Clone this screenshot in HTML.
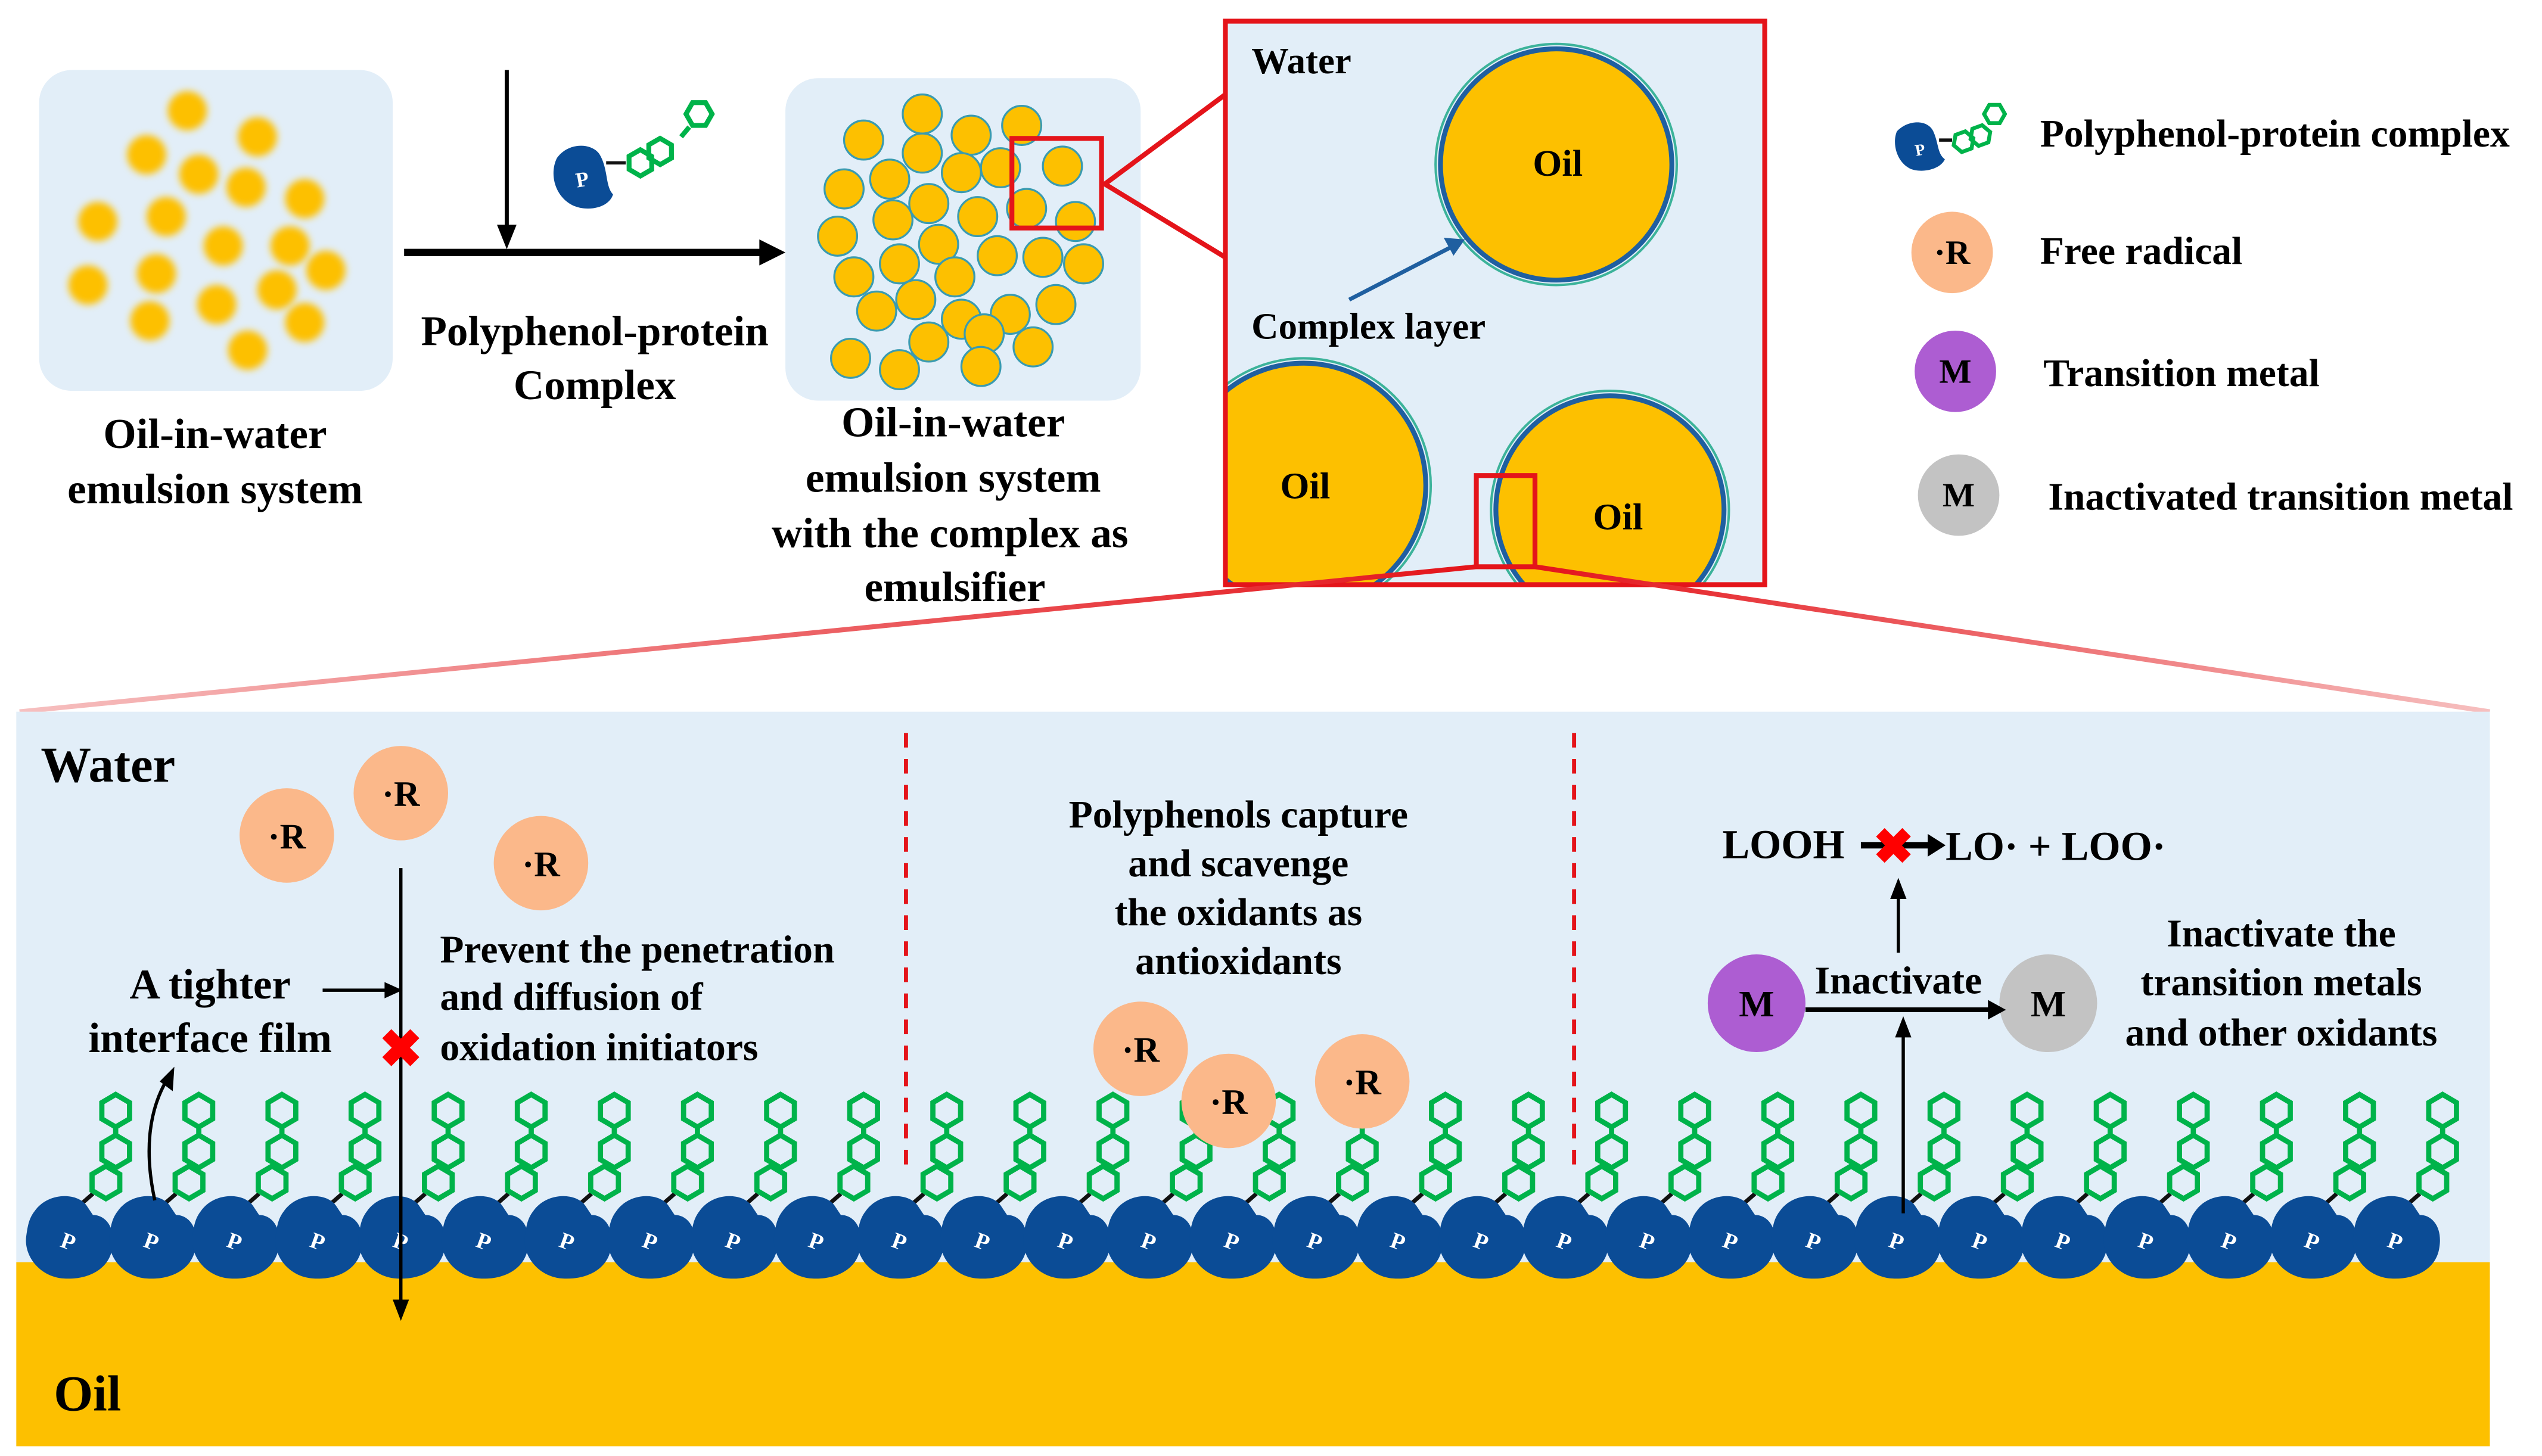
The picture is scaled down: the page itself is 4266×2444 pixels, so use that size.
<!DOCTYPE html>
<html><head><meta charset="utf-8"><style>
html,body{margin:0;padding:0;background:#fff}
svg{display:block}
text{font-family:"Liberation Serif",serif;font-weight:bold;fill:#000}
</style></head><body>
<svg width="4266" height="2444" viewBox="0 0 1560 894" preserveAspectRatio="none" xmlns="http://www.w3.org/2000/svg">
<defs>
<filter id="bl" x="-50%" y="-50%" width="200%" height="200%"><feGaussianBlur stdDeviation="2.2"/></filter>
<linearGradient id="lgL" x1="0" y1="0" x2="1" y2="0"><stop offset="0" stop-color="#f6c0c0"/><stop offset="1" stop-color="#e4141a"/></linearGradient>
<linearGradient id="lgR" x1="0" y1="0" x2="1" y2="0"><stop offset="0" stop-color="#e4141a"/><stop offset="1" stop-color="#f6c0c0"/></linearGradient>
<path id="hx" d="M0,-10 L8.5,-5 L8.5,5 L0,10 L-8.5,5 L-8.5,-5Z" fill="none" stroke="#00b34a" stroke-width="3.2"/>
<path id="hxs" d="M0,-8 L7,-4 L7,4 L0,8 L-7,4 L-7,-4Z" fill="none" stroke="#00b34a" stroke-width="3"/>
<g id="unit">
  <line x1="6" y1="-20" x2="14" y2="-27" stroke="#111" stroke-width="2.5"/>
  <use href="#hx" x="22" y="-34"/>
  <use href="#hx" x="28" y="-53"/>
  <line x1="28" y1="-63" x2="28" y2="-68" stroke="#00b34a" stroke-width="3.2"/>
  <use href="#hx" x="28" y="-78"/>
  <path d="M-22,-16 C-14,-28 4,-28 10,-20 L14,-14 C22,-14 28,-6 26,6 C24,20 10,26 -4,25 C-18,24 -28,12 -27,0 C-26,-8 -25,-12 -22,-16Z" fill="#0b4c96"/>
</g>
<g id="drop"><circle r="12" fill="#fdc000" stroke="#3a9bb0" stroke-width="1.2"/></g>
<g id="bdrop"><circle r="12" fill="#fdc000" filter="url(#bl)"/></g>
<g id="rad"><circle r="29" fill="#fbb88a"/></g>
</defs>

<!-- top left box -->
<rect x="24" y="43" width="217" height="197" rx="20" fill="#e2eef8"/>
<g>
<use href="#bdrop" x="115" y="68"/><use href="#bdrop" x="158" y="84"/><use href="#bdrop" x="90" y="95"/><use href="#bdrop" x="122" y="107"/><use href="#bdrop" x="151" y="115"/><use href="#bdrop" x="187" y="122"/><use href="#bdrop" x="60" y="136"/><use href="#bdrop" x="102" y="133"/><use href="#bdrop" x="137" y="151"/><use href="#bdrop" x="178" y="151"/><use href="#bdrop" x="200" y="166"/><use href="#bdrop" x="96" y="168"/><use href="#bdrop" x="54" y="175"/><use href="#bdrop" x="170" y="178"/><use href="#bdrop" x="133" y="187"/><use href="#bdrop" x="92" y="197"/><use href="#bdrop" x="187" y="198"/><use href="#bdrop" x="152" y="215"/>
</g>
<text x="132" y="275" font-size="26" text-anchor="middle">Oil-in-water</text>
<text x="132" y="309" font-size="26" text-anchor="middle">emulsion  system</text>

<!-- arrows -->
<line x1="311" y1="43" x2="311" y2="142" stroke="#000" stroke-width="2.5"/>
<path d="M305,138 L317,138 L311,153Z"/>
<line x1="248" y1="155" x2="468" y2="155" stroke="#000" stroke-width="4.5"/>
<path d="M466,147 L482,155 L466,163Z"/>
<g transform="translate(360,108) rotate(-10)">
  <path d="M-16,-14 C-8,-22 6,-20 10,-12 C14,-2 10,8 14,14 C10,22 -4,22 -12,16 C-22,8 -22,-6 -16,-14Z" fill="#0b4c96"/>
  <text x="-3" y="6" font-size="13" style="fill:#fff" text-anchor="middle">P</text>
</g>
<line x1="372" y1="100" x2="384" y2="100" stroke="#111" stroke-width="2"/>
<g transform="translate(393,100) rotate(-30)">
<use href="#hxs" transform="rotate(90)"/><use href="#hxs" transform="translate(14,0) rotate(90)"/>
</g>
<line x1="418" y1="84" x2="423" y2="78" stroke="#00b34a" stroke-width="3"/>
<use href="#hxs" transform="translate(429,70) rotate(90)"/>
<text x="365" y="212" font-size="26" text-anchor="middle">Polyphenol-protein</text>
<text x="365" y="245" font-size="26" text-anchor="middle">Complex</text>

<!-- second box -->
<rect x="482" y="48" width="218" height="198" rx="20" fill="#e2eef8"/>
<g>
<use href="#drop" x="530" y="86"/><use href="#drop" x="566" y="70"/><use href="#drop" x="596" y="83"/><use href="#drop" x="627" y="77"/><use href="#drop" x="518" y="116"/><use href="#drop" x="546" y="110"/><use href="#drop" x="566" y="94"/><use href="#drop" x="590" y="106"/><use href="#drop" x="614" y="103"/><use href="#drop" x="652" y="102"/><use href="#drop" x="548" y="135"/><use href="#drop" x="570" y="125"/><use href="#drop" x="600" y="133"/><use href="#drop" x="630" y="128"/><use href="#drop" x="660" y="136"/><use href="#drop" x="514" y="145"/><use href="#drop" x="576" y="150"/><use href="#drop" x="552" y="162"/><use href="#drop" x="586" y="170"/><use href="#drop" x="612" y="157"/><use href="#drop" x="640" y="158"/><use href="#drop" x="665" y="162"/><use href="#drop" x="524" y="170"/><use href="#drop" x="538" y="191"/><use href="#drop" x="562" y="184"/><use href="#drop" x="590" y="196"/><use href="#drop" x="620" y="193"/><use href="#drop" x="648" y="187"/><use href="#drop" x="570" y="210"/><use href="#drop" x="604" y="205"/><use href="#drop" x="634" y="213"/><use href="#drop" x="522" y="220"/><use href="#drop" x="552" y="227"/><use href="#drop" x="602" y="225"/>
</g>
<rect x="621" y="85" width="55" height="55" fill="none" stroke="#e4141a" stroke-width="3"/>
<polyline points="752,58 678,113 752,158" fill="none" stroke="#e4141a" stroke-width="3"/>
<text x="585" y="268" font-size="26" text-anchor="middle">Oil-in-water</text>
<text x="585" y="302" font-size="26" text-anchor="middle">emulsion  system</text>
<text x="583" y="336" font-size="26" text-anchor="middle">with  the complex  as</text>
<text x="586" y="369" font-size="26" text-anchor="middle">emulsifier</text>

<!-- zoom box -->
<svg x="752" y="13" width="331" height="346" viewBox="752 13 331 346">
<rect x="752" y="13" width="331" height="346" fill="#e2eef8"/>
<circle cx="955" cy="101" r="71" fill="#fdc000" stroke="#1f5fa0" stroke-width="3"/>
<circle cx="955" cy="101" r="74" fill="none" stroke="#3cb39a" stroke-width="1.5"/>
<circle cx="800" cy="298" r="75" fill="#fdc000" stroke="#1f5fa0" stroke-width="3"/>
<circle cx="800" cy="298" r="78" fill="none" stroke="#3cb39a" stroke-width="1.5"/>
<circle cx="988" cy="313" r="70" fill="#fdc000" stroke="#1f5fa0" stroke-width="3"/>
<circle cx="988" cy="313" r="73" fill="none" stroke="#3cb39a" stroke-width="1.5"/>
</svg>
<rect x="752" y="13" width="331" height="346" fill="none" stroke="#e4141a" stroke-width="3"/>
<text x="768" y="45" font-size="23">Water</text>
<text x="956" y="108" font-size="23" text-anchor="middle">Oil</text>
<text x="801" y="306" font-size="23" text-anchor="middle">Oil</text>
<text x="993" y="325" font-size="23" text-anchor="middle">Oil</text>
<text x="768" y="208" font-size="23">Complex layer</text>
<line x1="828" y1="184" x2="890" y2="152" stroke="#1f5fa0" stroke-width="2.5"/>
<path d="M886,146 L899,147 L892,157Z" fill="#1f5fa0"/>
<rect x="906" y="292" width="36" height="56" fill="none" stroke="#e4141a" stroke-width="3"/>
<line x1="906" y1="348" x2="12" y2="437" stroke="url(#lgL)" stroke-width="3"/>
<line x1="942" y1="348" x2="1528" y2="437" stroke="url(#lgR)" stroke-width="3"/>

<!-- legend -->
<g transform="translate(1180,90) rotate(-10)">
  <path d="M-14,-12 C-6,-18 6,-16 8,-8 C10,0 8,6 12,10 C8,16 -4,16 -10,12 C-18,6 -18,-6 -14,-12Z" fill="#0b4c96"/>
  <text x="-2" y="5" font-size="10" style="fill:#fff" text-anchor="middle">P</text>
</g>
<line x1="1190" y1="86" x2="1198" y2="86" stroke="#111" stroke-width="2"/>
<g transform="translate(1205,87) rotate(-20)"><use href="#hxs" transform="rotate(90) scale(0.8)"/><use href="#hxs" transform="translate(11,0) rotate(90) scale(0.8)"/></g>
<use href="#hxs" transform="translate(1224,70) rotate(90) scale(0.8)"/>
<text x="1252" y="90" font-size="24">Polyphenol-protein complex</text>
<circle cx="1198" cy="155" r="25" fill="#fbb88a"/>
<text x="1198" y="162" font-size="21" text-anchor="middle">·R</text>
<text x="1252" y="162" font-size="24">Free radical</text>
<circle cx="1200" cy="228" r="25" fill="#ad5dd2"/>
<text x="1200" y="235" font-size="21" text-anchor="middle">M</text>
<text x="1254" y="237" font-size="24">Transition metal</text>
<circle cx="1202" cy="304" r="25" fill="#c3c3c3"/>
<text x="1202" y="311" font-size="21" text-anchor="middle">M</text>
<text x="1257" y="313" font-size="24">Inactivated transition metal</text>

<!-- bottom panel -->
<rect x="10" y="437" width="1518" height="451" fill="#e2eef8"/>
<rect x="10" y="775" width="1518" height="113" fill="#fdc000"/>
<text x="25" y="480" font-size="31">Water</text>
<text x="33" y="866" font-size="31">Oil</text>
<line x1="556" y1="450" x2="556" y2="720" stroke="#e4141a" stroke-width="2.5" stroke-dasharray="9,7"/>
<line x1="966" y1="450" x2="966" y2="720" stroke="#e4141a" stroke-width="2.5" stroke-dasharray="9,7"/>

<g>
<use href="#unit" x="43" y="760"/><use href="#unit" x="94" y="760"/><use href="#unit" x="145" y="760"/><use href="#unit" x="196" y="760"/><use href="#unit" x="247" y="760"/><use href="#unit" x="298" y="760"/><use href="#unit" x="349" y="760"/><use href="#unit" x="400" y="760"/><use href="#unit" x="451" y="760"/><use href="#unit" x="502" y="760"/><use href="#unit" x="553" y="760"/><use href="#unit" x="604" y="760"/><use href="#unit" x="655" y="760"/><use href="#unit" x="706" y="760"/><use href="#unit" x="757" y="760"/><use href="#unit" x="808" y="760"/><use href="#unit" x="859" y="760"/><use href="#unit" x="910" y="760"/><use href="#unit" x="961" y="760"/><use href="#unit" x="1012" y="760"/><use href="#unit" x="1063" y="760"/><use href="#unit" x="1114" y="760"/><use href="#unit" x="1165" y="760"/><use href="#unit" x="1216" y="760"/><use href="#unit" x="1267" y="760"/><use href="#unit" x="1318" y="760"/><use href="#unit" x="1369" y="760"/><use href="#unit" x="1420" y="760"/><use href="#unit" x="1471" y="760"/>
</g>
<g font-size="14" text-anchor="middle">
<text x="42" y="767" transform="rotate(20 42 762)" style="fill:#fff">P</text><text x="93" y="767" transform="rotate(20 93 762)" style="fill:#fff">P</text><text x="144" y="767" transform="rotate(20 144 762)" style="fill:#fff">P</text><text x="195" y="767" transform="rotate(20 195 762)" style="fill:#fff">P</text><text x="246" y="767" transform="rotate(20 246 762)" style="fill:#fff">P</text><text x="297" y="767" transform="rotate(20 297 762)" style="fill:#fff">P</text><text x="348" y="767" transform="rotate(20 348 762)" style="fill:#fff">P</text><text x="399" y="767" transform="rotate(20 399 762)" style="fill:#fff">P</text><text x="450" y="767" transform="rotate(20 450 762)" style="fill:#fff">P</text><text x="501" y="767" transform="rotate(20 501 762)" style="fill:#fff">P</text><text x="552" y="767" transform="rotate(20 552 762)" style="fill:#fff">P</text><text x="603" y="767" transform="rotate(20 603 762)" style="fill:#fff">P</text><text x="654" y="767" transform="rotate(20 654 762)" style="fill:#fff">P</text><text x="705" y="767" transform="rotate(20 705 762)" style="fill:#fff">P</text><text x="756" y="767" transform="rotate(20 756 762)" style="fill:#fff">P</text><text x="807" y="767" transform="rotate(20 807 762)" style="fill:#fff">P</text><text x="858" y="767" transform="rotate(20 858 762)" style="fill:#fff">P</text><text x="909" y="767" transform="rotate(20 909 762)" style="fill:#fff">P</text><text x="960" y="767" transform="rotate(20 960 762)" style="fill:#fff">P</text><text x="1011" y="767" transform="rotate(20 1011 762)" style="fill:#fff">P</text><text x="1062" y="767" transform="rotate(20 1062 762)" style="fill:#fff">P</text><text x="1113" y="767" transform="rotate(20 1113 762)" style="fill:#fff">P</text><text x="1164" y="767" transform="rotate(20 1164 762)" style="fill:#fff">P</text><text x="1215" y="767" transform="rotate(20 1215 762)" style="fill:#fff">P</text><text x="1266" y="767" transform="rotate(20 1266 762)" style="fill:#fff">P</text><text x="1317" y="767" transform="rotate(20 1317 762)" style="fill:#fff">P</text><text x="1368" y="767" transform="rotate(20 1368 762)" style="fill:#fff">P</text><text x="1419" y="767" transform="rotate(20 1419 762)" style="fill:#fff">P</text><text x="1470" y="767" transform="rotate(20 1470 762)" style="fill:#fff">P</text>
</g>

<!-- left section -->
<use href="#rad" x="176" y="513"/><text x="176" y="521" font-size="22" text-anchor="middle">·R</text>
<use href="#rad" x="246" y="487"/><text x="246" y="495" font-size="22" text-anchor="middle">·R</text>
<use href="#rad" x="332" y="530"/><text x="332" y="538" font-size="22" text-anchor="middle">·R</text>
<line x1="246" y1="533" x2="246" y2="800" stroke="#000" stroke-width="2"/>
<path d="M241,798 L251,798 L246,811Z"/>
<line x1="198" y1="608" x2="238" y2="608" stroke="#000" stroke-width="2"/>
<path d="M236,603 L247,608 L236,613Z"/>
<path d="M95,737 C88,705 92,680 103,662" fill="none" stroke="#000" stroke-width="2"/>
<path d="M98,664 L107,655 L106,670Z"/>
<text x="246" y="655" font-size="32" text-anchor="middle" style="fill:#ff0000">✖</text>
<text x="129" y="613" font-size="26" text-anchor="middle">A tighter</text>
<text x="129" y="646" font-size="26" text-anchor="middle">interface film</text>
<text x="270" y="591" font-size="24">Prevent the penetration</text>
<text x="270" y="620" font-size="24">and diffusion of</text>
<text x="270" y="651" font-size="24">oxidation initiators</text>

<!-- middle -->
<text x="760" y="508" font-size="24" text-anchor="middle">Polyphenols capture</text>
<text x="760" y="538" font-size="24" text-anchor="middle">and  scavenge</text>
<text x="760" y="568" font-size="24" text-anchor="middle">the oxidants as</text>
<text x="760" y="598" font-size="24" text-anchor="middle">antioxidants</text>
<use href="#rad" x="700" y="644"/><text x="700" y="652" font-size="22" text-anchor="middle">·R</text>
<use href="#rad" x="754" y="676"/><text x="754" y="684" font-size="22" text-anchor="middle">·R</text>
<use href="#rad" x="836" y="664"/><text x="836" y="672" font-size="22" text-anchor="middle">·R</text>

<!-- right -->
<text x="1057" y="527" font-size="25">LOOH</text>
<line x1="1142" y1="519" x2="1186" y2="519" stroke="#000" stroke-width="4"/>
<path d="M1183,512 L1194,519 L1183,526Z"/>
<text x="1162" y="530" font-size="30" text-anchor="middle" style="fill:#ff0000">✖</text>
<text x="1194" y="528" font-size="25">LO· + LOO·</text>
<line x1="1165" y1="585" x2="1165" y2="550" stroke="#000" stroke-width="2"/>
<path d="M1160,552 L1165,539 L1170,552Z"/>
<text x="1165" y="610" font-size="24" text-anchor="middle">Inactivate</text>
<circle cx="1078" cy="616" r="30" fill="#ad5dd2"/>
<text x="1078" y="624" font-size="23" text-anchor="middle">M</text>
<circle cx="1257" cy="616" r="30" fill="#c3c3c3"/>
<text x="1257" y="624" font-size="23" text-anchor="middle">M</text>
<line x1="1108" y1="620" x2="1222" y2="620" stroke="#000" stroke-width="3"/>
<path d="M1220,614 L1231,620 L1220,626Z"/>
<line x1="1168" y1="745" x2="1168" y2="635" stroke="#000" stroke-width="2"/>
<path d="M1163,637 L1168,624 L1173,637Z"/>
<text x="1400" y="581" font-size="24" text-anchor="middle">Inactivate the</text>
<text x="1400" y="611" font-size="24" text-anchor="middle">transition metals</text>
<text x="1400" y="642" font-size="24" text-anchor="middle">and other oxidants</text>
</svg>
</body></html>
